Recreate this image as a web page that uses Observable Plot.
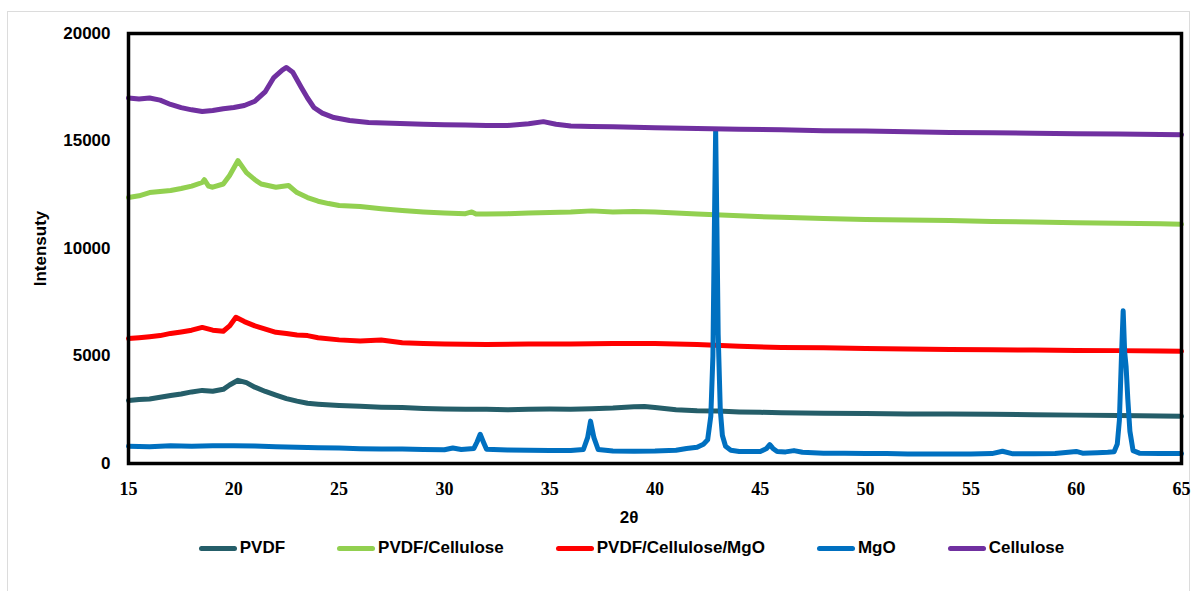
<!DOCTYPE html>
<html><head><meta charset="utf-8">
<script src="https://cdn.jsdelivr.net/npm/d3@7"></script>
<script src="https://cdn.jsdelivr.net/npm/@observablehq/plot@0.6"></script>
<style>
body{margin:0;background:#fff;}
#wrap{position:relative;width:1199px;height:591px;overflow:hidden;background:#fff;}
#border{position:absolute;left:7px;top:11px;width:1183px;height:600px;border:1px solid #dcdcdc;box-sizing:border-box;}
#chart{position:absolute;left:0;top:0;}
#legend{position:absolute;top:538px;left:0;width:1199px;box-sizing:border-box;padding-left:64px;display:flex;justify-content:center;gap:52px;font:bold 17px "Liberation Sans",Arial,sans-serif;color:#000;}
.item{display:flex;align-items:center;}
.sw{width:38px;height:5px;border-radius:3px;margin-right:3px;}
</style></head>
<body>
<div id="wrap"><div id="border"></div><div id="chart"></div><div id="legend"></div></div>
<script>
const seriesNames = ["PVDF","PVDF/Cellulose","PVDF/Cellulose/MgO","MgO","Cellulose"];
const seriesColors = ["#255e69","#92d050","#ff0000","#0070c0","#7030a0"];
const xTicks = [15,20,25,30,35,40,45,50,55,60,65];
const yTicks = [0,5000,10000,15000,20000];

const pvdfTheta = [15,15.5,16,16.5,17,17.5,18,18.5,19,19.5,19.8,20.2,20.6,21,21.5,22,22.5,23,23.5,24,25,26,27,28,29,30,31,32,33,34,35,36,37,38,39,39.5,40,41,42,43,44,45,46,47,48,50,52,54,56,58,60,62,64,65];
const pvdfIntensity = [2930,2980,3000,3080,3160,3230,3330,3400,3360,3450,3650,3870,3760,3550,3350,3180,3020,2900,2800,2760,2700,2660,2620,2600,2560,2530,2520,2520,2500,2520,2530,2520,2550,2580,2640,2650,2600,2500,2450,2440,2400,2380,2360,2350,2340,2330,2300,2300,2290,2270,2250,2230,2210,2200];

const pcTheta = [15,15.5,16,16.5,17,17.5,18,18.5,18.6,18.8,19,19.5,19.8,20.2,20.6,21,21.3,22,22.6,23,23.5,24,24.5,25,26,27,28,29,30,31,31.3,31.5,32,33,34,35,36,37,38,39,40,42,44,46,48,50,52,54,56,58,60,62,64,65];
const pcIntensity = [12370,12450,12600,12650,12700,12790,12900,13070,13200,12900,12850,13000,13400,14090,13530,13200,13000,12850,12930,12600,12370,12200,12090,12000,11950,11850,11770,11700,11650,11620,11700,11600,11600,11620,11650,11680,11700,11750,11700,11720,11700,11600,11520,11450,11400,11350,11330,11300,11260,11230,11200,11180,11150,11130];

const pcmTheta = [15,15.5,16,16.5,17,17.5,18,18.5,19,19.5,19.8,20.1,20.5,21,21.5,22,22.5,23,23.5,24,25,26,27,28,29,30,32,34,36,38,40,42,44,46,48,50,52,54,56,58,60,62,64,65];
const pcmIntensity = [5810,5850,5900,5950,6050,6120,6200,6330,6200,6150,6400,6800,6600,6400,6250,6100,6050,5980,5950,5850,5750,5700,5740,5620,5580,5560,5540,5560,5560,5580,5580,5540,5450,5400,5380,5350,5330,5300,5290,5280,5260,5250,5230,5220];

const mgoTheta = [15,16,17,18,19,20,21,22,23,24,25,26,27,28,29,30,30.4,30.8,31.4,31.55,31.7,31.85,32,33,34,35,36,36.6,36.8,36.94,37.1,37.3,38,39,40,41,41.5,42,42.3,42.5,42.65,42.75,42.82,42.88,42.94,43.0,43.1,43.2,43.35,43.6,44,45,45.3,45.45,45.6,45.8,46.2,46.6,47,48,49,50,51,52,53,54,55,56,56.5,57,58,59,60,60.3,61,61.5,61.8,61.95,62.05,62.15,62.23,62.3,62.37,62.45,62.55,62.7,63,64,65];
const mgoIntensity = [800,780,820,800,820,830,810,780,760,730,720,690,680,670,650,640,720,650,700,1000,1360,1000,660,630,620,600,600,650,1200,1970,1200,650,580,570,580,620,700,760,900,1100,2200,5000,11000,15500,11000,6000,2500,1300,800,620,560,560,700,880,700,560,540,600,520,480,480,470,460,440,440,440,440,460,570,450,450,460,560,480,500,520,550,900,2000,5000,7100,5200,4500,3000,1500,600,480,470,460];

const celTheta = [15,15.5,16,16.5,17,17.5,18,18.5,19,19.5,20,20.5,21,21.5,21.9,22.3,22.5,22.8,23.2,23.5,23.8,24.2,24.75,25.5,26.4,27.9,29,30,31,32,33,34,34.7,35.3,36,37,38,40,42,44,46,48,50,52,54,56,58,60,62,64,65];
const celIntensity = [17000,16950,17000,16900,16700,16550,16450,16370,16420,16500,16560,16650,16850,17300,17950,18300,18420,18200,17500,17000,16560,16300,16090,15950,15860,15810,15780,15760,15740,15720,15720,15800,15900,15780,15700,15680,15660,15620,15580,15550,15520,15480,15460,15430,15400,15380,15360,15340,15320,15300,15290];

const thetas = [pvdfTheta, pcTheta, pcmTheta, mgoTheta, celTheta];
const intensities = [pvdfIntensity, pcIntensity, pcmIntensity, mgoIntensity, celIntensity];

const series = seriesNames.map((name, i) => ({
  name, color: seriesColors[i],
  rows: thetas[i].map((t, j) => ({theta: t, intensity: intensities[i][j]}))
}));

const plot = Plot.plot({
  width: 1199, height: 530,
  marginTop: 33, marginLeft: 128, marginRight: 18, marginBottom: 67,
  x: {domain: [15, 65]},
  y: {domain: [0, 20000]},
  style: {background: "transparent", overflow: "visible"},
  marks: [
    Plot.axisY({ticks: yTicks, tickSize: 0, tickPadding: 18, fontSize: 17, fontWeight: "bold", fontFamily: "Liberation Sans", tickFormat: d3.format("d"), label: "Intensuty", labelAnchor: "center", labelArrow: "none", labelOffset: 95}),
    Plot.axisX({ticks: xTicks, tickSize: 0, tickPadding: 19, fontSize: 18, fontWeight: "bold", fontFamily: "Liberation Serif", tickFormat: d3.format("d"), label: "2θ", labelAnchor: "center", labelArrow: "none", labelOffset: 59}),
    ...series.map(s => Plot.line(s.rows, {x: "theta", y: "intensity", stroke: s.color, strokeWidth: 5, strokeLinejoin: "round", strokeLinecap: "round"})),
    Plot.frame({stroke: "black", strokeWidth: 3.5})
  ]
});
document.getElementById("chart").appendChild(plot);

const xl = d3.select(plot).select('g[aria-label="x-axis label"]');
xl.attr("font-family", "Liberation Sans").attr("font-size", 17);
xl.selectAll("text").attr("dx", -26);

const legend = d3.select("#legend");
series.forEach(s => {
  const it = legend.append("div").attr("class", "item");
  it.append("div").attr("class", "sw").style("background", s.color);
  it.append("span").text(s.name);
});
</script>
</body></html>
